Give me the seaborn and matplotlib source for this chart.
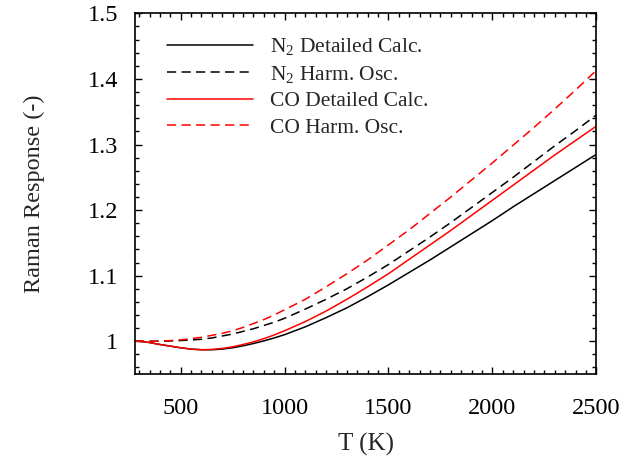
import matplotlib
matplotlib.use("Agg")
import matplotlib.pyplot as plt
import matplotlib.ticker as mticker
import seaborn as sns
import pandas as pd

T = [280, 300, 350, 400, 450, 500, 550, 600, 650, 700, 750, 800, 850, 900, 950,
     1000, 1100, 1200, 1300, 1400, 1500, 1600, 1700, 1800, 1900, 2000, 2100,
     2200, 2300, 2400, 2500]
n2_detailed = [1.001, 1.000, 0.998, 0.995, 0.9925, 0.990, 0.988, 0.987, 0.987,
               0.988, 0.990, 0.993, 0.9965, 1.0005, 1.005, 1.010,
               1.022, 1.036, 1.051, 1.068, 1.086, 1.105, 1.124, 1.144, 1.164,
               1.184, 1.205, 1.225, 1.245, 1.265, 1.285]
n2_harmonic = [1.000, 1.000, 1.000, 1.000, 1.0005, 1.001, 1.002, 1.003, 1.005,
               1.008, 1.011, 1.015, 1.019, 1.024, 1.029, 1.035,
               1.049, 1.064, 1.080, 1.098, 1.117, 1.138, 1.159, 1.181, 1.204,
               1.227, 1.250, 1.274, 1.298, 1.321, 1.345]
co_detailed = [1.001, 1.000, 0.998, 0.995, 0.9925, 0.990, 0.988, 0.987, 0.9875,
               0.989, 0.9915, 0.995, 0.999, 1.004, 1.0095, 1.016,
               1.030, 1.046, 1.064, 1.083, 1.103, 1.125, 1.147, 1.169, 1.192,
               1.215, 1.238, 1.261, 1.284, 1.306, 1.328]
co_harmonic = [1.000, 1.000, 1.000, 1.000, 1.001, 1.002, 1.004, 1.006, 1.009,
               1.012, 1.016, 1.021, 1.027, 1.033, 1.040, 1.048,
               1.064, 1.083, 1.103, 1.124, 1.147, 1.170, 1.195, 1.220, 1.246,
               1.272, 1.299, 1.326, 1.354, 1.383, 1.413]
series_names = ["N$_2$ Detailed Calc.", "N$_2$ Harm. Osc.",
                "CO Detailed Calc.", "CO Harm. Osc."]
x_ticks = [500, 1000, 1500, 2000, 2500]
y_ticks = [1.0, 1.1, 1.2, 1.3, 1.4, 1.5]

frames = []
for name, vals in zip(series_names, [n2_detailed, n2_harmonic, co_detailed, co_harmonic]):
    frames.append(pd.DataFrame({"T": T, "R": vals, "series": name}))
df = pd.concat(frames, ignore_index=True)

sns.set_style("ticks")
plt.rcParams["font.family"] = ["Liberation Serif", "DejaVu Serif"]
plt.rcParams["mathtext.fontset"] = "custom"
plt.rcParams["mathtext.rm"] = "Liberation Serif"
plt.rcParams["mathtext.it"] = "Liberation Serif:italic"

fig = plt.figure(figsize=(6.29, 4.61), dpi=100)
ax = fig.add_axes([0.2146, 0.1887, 0.948 - 0.2146, 0.971 - 0.1887])

palette = {series_names[0]: "black", series_names[1]: "black",
           series_names[2]: "#ff0000", series_names[3]: "#ff0000"}
dashes = {series_names[0]: "", series_names[1]: (6, 3.5),
          series_names[2]: "", series_names[3]: (6, 3.5)}
sns.lineplot(data=df, x="T", y="R", hue="series", style="series",
             palette=palette, dashes=dashes, hue_order=series_names,
             style_order=series_names, linewidth=1.1, ax=ax, sort=False)

ax.set_xlim(280, 2500)
ax.set_ylim(0.95, 1.5)
ax.set_xticks(x_ticks)
ax.set_yticks(y_ticks)
ax.xaxis.set_minor_locator(mticker.MultipleLocator(50))
ax.yaxis.set_minor_locator(mticker.MultipleLocator(0.02))
ax.yaxis.set_major_formatter(mticker.FormatStrFormatter("%g"))
ax.tick_params(which="both", direction="in", top=True, right=True, labelsize=17.5,
               width=1.0, colors="black")
ax.tick_params(which="major", length=5)
ax.tick_params(axis="x", which="major", pad=17)
ax.tick_params(axis="y", which="major", pad=12)
ax.tick_params(which="minor", length=2.8)
for s in ax.spines.values():
    s.set_linewidth(1.2)
    s.set_color("black")

ax.set_xlabel("T (K)", fontsize=18, labelpad=10)
ax.set_ylabel("Raman Response (-)", fontsize=17.5, labelpad=31)

leg = ax.legend(loc="upper left", bbox_to_anchor=(0.05, 0.96), frameon=False,
                fontsize=15.5, handlelength=4.0, handletextpad=0.8,
                labelspacing=0.3, borderaxespad=0.0)

fig.savefig("out.png", dpi=100)
